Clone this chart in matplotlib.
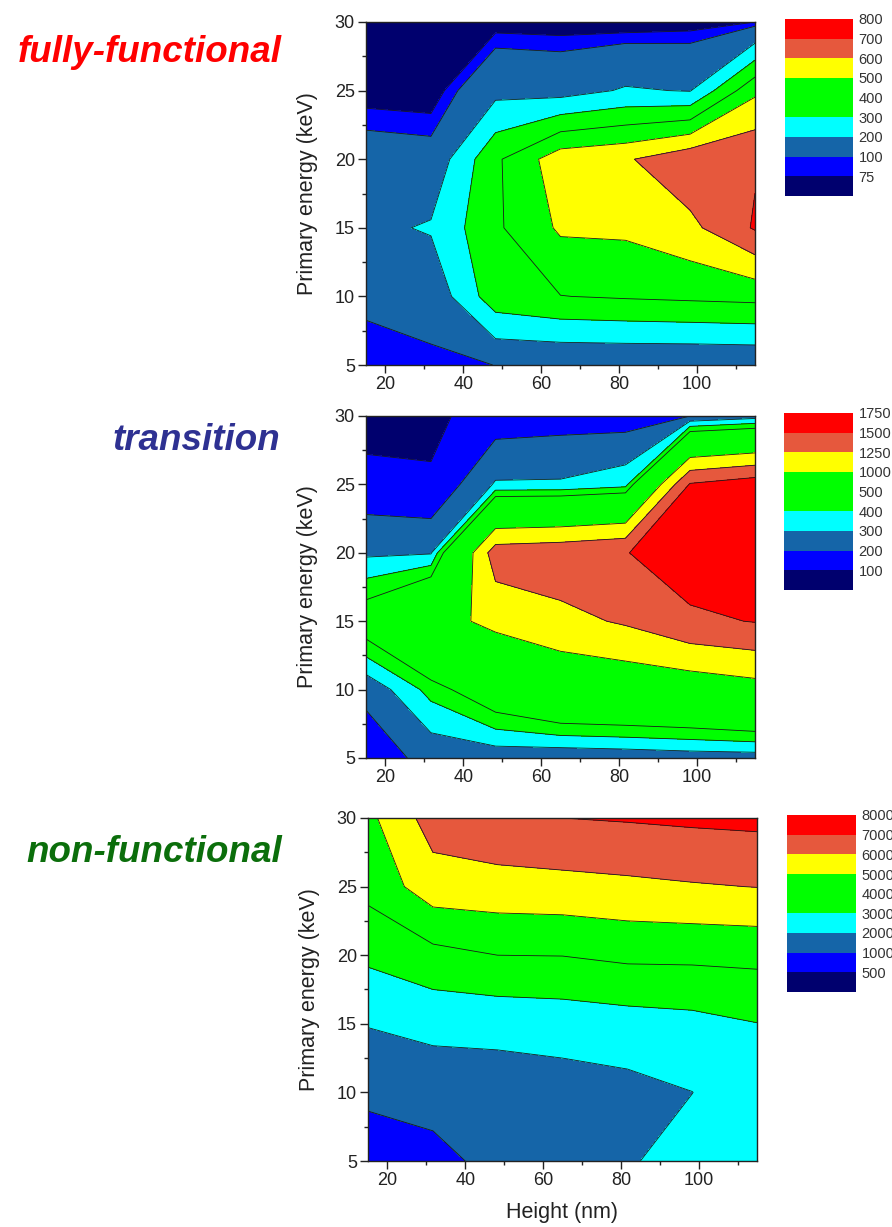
import numpy as np
import matplotlib
matplotlib.use("Agg")
import matplotlib.pyplot as plt

plt.rcParams['font.family'] = ['Liberation Sans', 'DejaVu Sans']

heights = [15, 31.7, 48.3, 65, 81.7, 98.3, 115]
energies = [5, 10, 15, 20, 25, 30]

# fully-functional (rows: energies 5..30, cols: heights)
z_full = [
    [85, 89, 100.5, 102, 103, 102, 105],
    [108, 125, 360, 398, 410, 420, 430],
    [177, 210, 383, 515, 520, 574, 710],
    [133, 125, 382, 560, 588, 675, 690],
    [55, 50, 170, 160, 210, 195, 480],
    [40, 40, 57, 54, 50, 57, 75],
]
levels_full = [75, 100, 200, 300, 400, 500, 600, 700, 800]

# transition
z_trans = [
    [165, 220, 230, 215, 225, 240, 245],
    [215, 437, 633, 776, 800, 830, 900],
    [600, 887, 1070, 1176, 1280, 1453, 1510],
    [280, 290, 1380, 1420, 1490, 1650, 1700],
    [137, 110, 310, 312, 360, 1520, 1640],
    [53, 80, 143, 156, 150, 200, 250],
]
levels_trans = [100, 200, 300, 400, 500, 1000, 1250, 1500, 1750]

# non-functional
z_non = [
    [600, 716, 1284, 1500, 1900, 2400, 2450],
    [1150, 1362, 1458, 1573, 1703, 1990, 2600],
    [2050, 2300, 2333, 2427, 2576, 2700, 2980],
    [3200, 3700, 4000, 4020, 4206, 4216, 4262],
    [4300, 5550, 5624, 5684, 5794, 5920, 6020],
    [4750, 6450, 6800, 7000, 7080, 7176, 7245],
]
levels_non = [500, 1000, 2000, 3000, 4000, 5000, 6000, 7000, 8000]

titles = ["fully-functional", "transition", "non-functional"]
title_colors = ["#FF0000", "#2E3192", "#0B6E0B"]

band_colors = ["#00006E", "#0000FF", "#1565A8", "#00FFFF", "#00FF00",
               "#00FF00", "#FFFF00", "#E6583D", "#FF0000"]

W, H = 892, 1227
fig = plt.figure(figsize=(W / 100, H / 100), dpi=100)

panels = [
    (z_full, levels_full, (366, 22, 755, 365), (785, 19, 853, 196), 52, 282),
    (z_trans, levels_trans, (366, 416, 755, 758), (784, 413, 853, 590), 440, 280),
    (z_non, levels_non, (368, 818, 757, 1161), (787, 815, 856, 992), 853, 282),
]

def fr(box):
    x0, y0, x1, y1 = box
    return [x0 / W, 1 - y1 / H, (x1 - x0) / W, (y1 - y0) / H]

X, Y = np.meshgrid(heights, energies)
tick_color = "#222222"

for i, (z, levs, abox, cbox, ty, tx) in enumerate(panels):
    Z = np.array(z, dtype=float)
    ax = fig.add_axes(fr(abox))
    bounds = [0] + levs
    ax.contourf(X, Y, Z, levels=bounds, colors=band_colors)
    ax.contour(X, Y, Z, levels=levs[:-1], colors="#1a1a1a", linewidths=0.6)
    ax.set_xlim(15, 115)
    ax.set_ylim(5, 30)
    ax.set_xticks([20, 40, 60, 80, 100])
    ax.set_xticks([30, 50, 70, 90, 110], minor=True)
    ax.set_yticks([5, 10, 15, 20, 25, 30])
    ax.set_yticks([7.5, 12.5, 17.5, 22.5, 27.5], minor=True)
    ax.tick_params(which="major", direction="out", length=5.5, width=1,
                   labelsize=13, colors=tick_color, pad=2.5)
    ax.tick_params(which="minor", direction="out", length=3, width=1,
                   colors=tick_color)
    for s in ax.spines.values():
        s.set_linewidth(1.0)
        s.set_color("#222222")
    ax.set_ylabel("Primary energy (keV)", fontsize=15.5, color=tick_color,
                  labelpad=12)
    if i == 2:
        ax.set_xlabel("Height (nm)", fontsize=15.5, color=tick_color,
                      labelpad=9)

    # legend colour bar
    cax = fig.add_axes(fr(cbox))
    n = len(band_colors)
    cax.bar(np.zeros(n), np.ones(n), bottom=np.arange(n), width=1.0,
            color=band_colors, edgecolor="none")
    cax.set_xlim(-0.5, 0.5)
    cax.set_ylim(0, n)
    cax.set_xticks([])
    cax.yaxis.tick_right()
    cax.set_yticks(np.arange(1, n + 1))
    cax.set_yticklabels([str(v) for v in levs])
    cax.tick_params(axis="y", length=0, labelsize=10.5, colors="#333333",
                    pad=4)
    for s in cax.spines.values():
        s.set_visible(False)

    fig.text(tx / W, 1 - ty / H, titles[i], color=title_colors[i],
             fontsize=26.5, fontweight="bold", fontstyle="italic",
             ha="right", va="center")

fig.savefig("out.png", dpi=100)
